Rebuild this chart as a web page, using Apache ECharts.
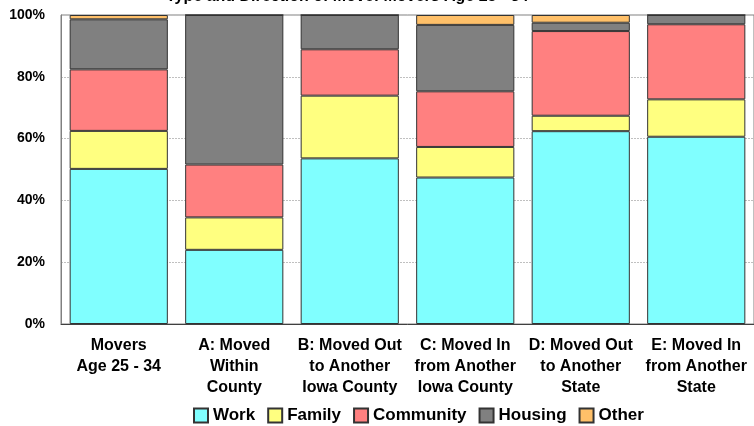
<!DOCTYPE html>
<html>
<head>
<meta charset="utf-8">
<script src="https://cdn.jsdelivr.net/npm/echarts@6/dist/echarts.min.js"></script>
<style>
html,body{margin:0;padding:0;background:#fff;}
#chart{width:754px;height:426px;}
</style>
</head>
<body>
<div id="chart"></div>
<script>
const titleText = 'Type and Direction of Move: Movers Age 25 - 34';
const categories = [
  'Movers\nAge 25 - 34',
  'A: Moved\nWithin\nCounty',
  'B: Moved Out\nto Another\nIowa County',
  'C: Moved In\nfrom Another\nIowa County',
  'D: Moved Out\nto Another\nState',
  'E: Moved In\nfrom Another\nState'
];
const work      = [50.2, 24.0, 53.6, 47.4, 62.4, 60.6];
const family    = [12.3, 10.5, 20.3,  9.9,  5.0, 12.1];
const community = [19.9, 17.1, 15.0, 18.0, 27.4, 24.3];
const housing   = [16.2, 48.4, 11.1, 21.5,  2.7,  3.0];
const other     = [ 1.4,  0.0,  0.0,  3.2,  2.5,  0.0];
const seriesNames = ['Work', 'Family', 'Community', 'Housing', 'Other'];
const seriesData = [work, family, community, housing, other];
const colors = ['#80FFFF', '#FFFF80', '#FF8080', '#808080', '#FFC069'];

const font = '"Liberation Sans", Arial, sans-serif';
const chart = echarts.init(document.getElementById('chart'), null, {renderer: 'canvas'});
chart.setOption({
  animation: false,
  backgroundColor: '#fff',
  title: {
    text: titleText,
    left: 166,
    top: -11,
    padding: 0,
    textStyle: {fontFamily: font, fontWeight: 'bold', fontSize: 16, color: '#000'}
  },
  legend: {
    data: seriesNames,
    left: 193,
    top: 407,
    padding: 0,
    itemWidth: 14,
    itemHeight: 14,
    itemGap: 12,
    icon: 'rect',
    textStyle: {fontFamily: font, fontWeight: 'bold', fontSize: 17, color: '#000'}
  },
  grid: {
    left: 61,
    top: 15,
    width: 699,
    height: 309,
    show: true,
    borderColor: '#808080',
    borderWidth: 1,
    backgroundColor: '#fff'
  },
  xAxis: {
    type: 'category',
    data: categories,
    axisTick: {show: false},
    axisLine: {lineStyle: {color: '#404040', width: 1}},
    axisLabel: {
      interval: 0,
      margin: 11,
      fontFamily: font,
      fontWeight: 'bold',
      fontSize: 16,
      lineHeight: 21,
      color: '#000'
    }
  },
  yAxis: {
    type: 'value',
    min: 0,
    max: 100,
    interval: 20,
    axisLine: {show: true, lineStyle: {color: '#808080'}},
    axisTick: {show: false},
    splitLine: {lineStyle: {color: '#C0C0C0', type: [2, 1]}},
    axisLabel: {
      formatter: '{value}%',
      margin: 16,
      fontFamily: font,
      fontWeight: 'bold',
      fontSize: 14,
      color: '#000'
    }
  },
  series: seriesNames.map((name, i) => ({
    name: name,
    type: 'bar',
    stack: 'total',
    barCategoryGap: '15%',
    data: seriesData[i],
    itemStyle: {color: colors[i], borderColor: '#333', borderWidth: 1}
  }))
});
</script>
</body>
</html>
